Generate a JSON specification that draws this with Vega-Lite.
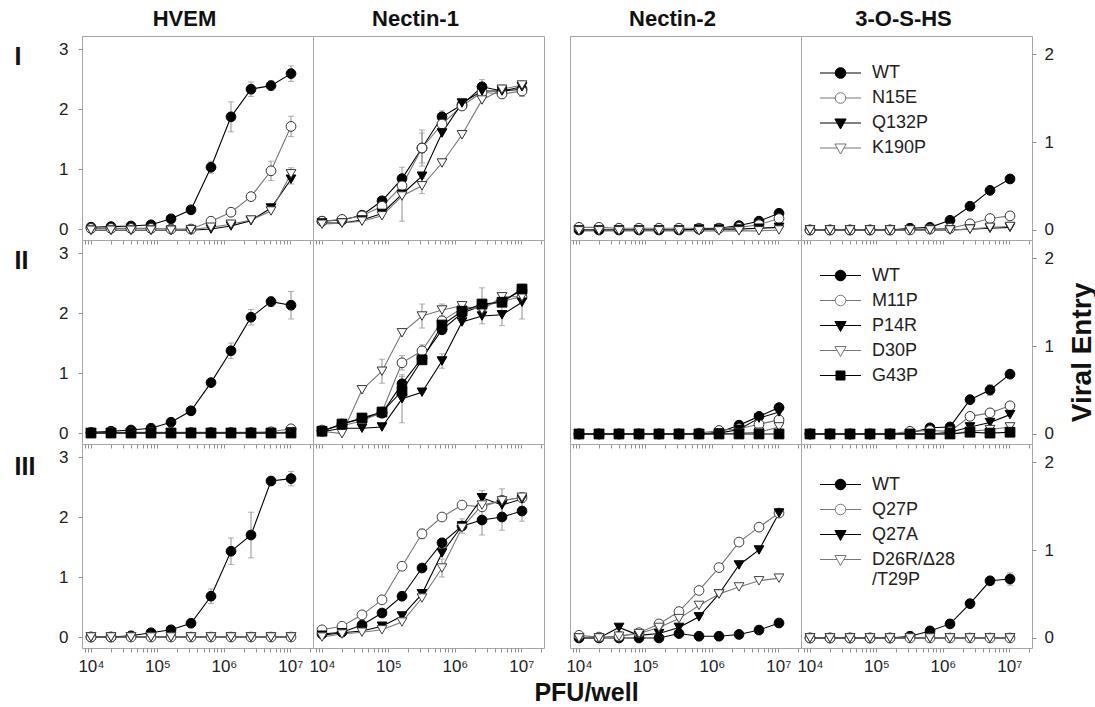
{
"$schema":"https://vega.github.io/schema/vega-lite/v6.json",
"padding":{"left":13,"top":7,"right":0,"bottom":0},
"config":{"font":"Liberation Sans","view":{"stroke":"#a6a6a6","strokeWidth":1},
"axis":{"grid":false,"domain":false,"tickColor":"#909090","tickSize":4,"labelFont":"Liberation Sans","labelFontSize":17,"labelColor":"#222","titleFont":"Liberation Sans","titleColor":"#111"},
"title":{"fontSize":22,"fontWeight":"bold","color":"#111","offset":5,"dx":-13},
"legend":{"labelFont":"Liberation Sans"}},
"datasets":{
"p11":[
{"s":"WT","x":1e4,"y":0.03},{"s":"WT","x":2e4,"y":0.04},{"s":"WT","x":4e4,"y":0.05},{"s":"WT","x":8e4,"y":0.07},{"s":"WT","x":1.6e5,"y":0.17},{"s":"WT","x":3.2e5,"y":0.32},{"s":"WT","x":6.4e5,"y":1.03,"e":0.1},{"s":"WT","x":1.28e6,"y":1.87,"e":0.25},{"s":"WT","x":2.56e6,"y":2.33,"e":0.12},{"s":"WT","x":5.12e6,"y":2.39,"e":0.08},{"s":"WT","x":1.024e7,"y":2.59,"e":0.13},
{"s":"N15E","x":1e4,"y":0.01},{"s":"N15E","x":2e4,"y":0.01},{"s":"N15E","x":4e4,"y":0.01},{"s":"N15E","x":8e4,"y":0.01},{"s":"N15E","x":1.6e5,"y":0.0},{"s":"N15E","x":3.2e5,"y":0.0},{"s":"N15E","x":6.4e5,"y":0.13},{"s":"N15E","x":1.28e6,"y":0.28},{"s":"N15E","x":2.56e6,"y":0.54},{"s":"N15E","x":5.12e6,"y":0.97,"e":0.16},{"s":"N15E","x":1.024e7,"y":1.71,"e":0.17},
{"s":"Q132P","x":1e4,"y":-0.02},{"s":"Q132P","x":2e4,"y":-0.02},{"s":"Q132P","x":4e4,"y":-0.02},{"s":"Q132P","x":8e4,"y":-0.02},{"s":"Q132P","x":1.6e5,"y":-0.02},{"s":"Q132P","x":3.2e5,"y":-0.02},{"s":"Q132P","x":6.4e5,"y":0.0},{"s":"Q132P","x":1.28e6,"y":0.05},{"s":"Q132P","x":2.56e6,"y":0.14},{"s":"Q132P","x":5.12e6,"y":0.35},{"s":"Q132P","x":1.024e7,"y":0.83,"e":0.08},
{"s":"K190P","x":1e4,"y":-0.02},{"s":"K190P","x":2e4,"y":-0.02},{"s":"K190P","x":4e4,"y":-0.02},{"s":"K190P","x":8e4,"y":-0.02},{"s":"K190P","x":1.6e5,"y":-0.02},{"s":"K190P","x":3.2e5,"y":-0.01},{"s":"K190P","x":6.4e5,"y":0.03},{"s":"K190P","x":1.28e6,"y":0.08},{"s":"K190P","x":2.56e6,"y":0.15},{"s":"K190P","x":5.12e6,"y":0.3},{"s":"K190P","x":1.024e7,"y":0.92,"e":0.1}
],
"p12":[
{"s":"WT","x":1e4,"y":0.13},{"s":"WT","x":2e4,"y":0.15},{"s":"WT","x":4e4,"y":0.23},{"s":"WT","x":8e4,"y":0.47},{"s":"WT","x":1.6e5,"y":0.84},{"s":"WT","x":3.2e5,"y":1.35,"e":0.3},{"s":"WT","x":6.4e5,"y":1.87,"e":0.1},{"s":"WT","x":1.28e6,"y":2.07},{"s":"WT","x":2.56e6,"y":2.37,"e":0.12},{"s":"WT","x":5.12e6,"y":2.3,"e":0.1},{"s":"WT","x":1.024e7,"y":2.33,"e":0.12},
{"s":"N15E","x":1e4,"y":0.13},{"s":"N15E","x":2e4,"y":0.16},{"s":"N15E","x":4e4,"y":0.22},{"s":"N15E","x":8e4,"y":0.38},{"s":"N15E","x":1.6e5,"y":0.72},{"s":"N15E","x":3.2e5,"y":1.35,"e":0.25},{"s":"N15E","x":6.4e5,"y":1.75},{"s":"N15E","x":1.28e6,"y":2.05},{"s":"N15E","x":2.56e6,"y":2.28},{"s":"N15E","x":5.12e6,"y":2.25},{"s":"N15E","x":1.024e7,"y":2.3},
{"s":"Q132P","x":1e4,"y":0.1},{"s":"Q132P","x":2e4,"y":0.1},{"s":"Q132P","x":4e4,"y":0.15},{"s":"Q132P","x":8e4,"y":0.26},{"s":"Q132P","x":1.6e5,"y":0.58,"e":0.45},{"s":"Q132P","x":3.2e5,"y":0.88},{"s":"Q132P","x":6.4e5,"y":1.6},{"s":"Q132P","x":1.28e6,"y":2.1},{"s":"Q132P","x":2.56e6,"y":2.3},{"s":"Q132P","x":5.12e6,"y":2.3},{"s":"Q132P","x":1.024e7,"y":2.37},
{"s":"K190P","x":1e4,"y":0.08},{"s":"K190P","x":2e4,"y":0.1},{"s":"K190P","x":4e4,"y":0.13},{"s":"K190P","x":8e4,"y":0.22},{"s":"K190P","x":1.6e5,"y":0.55},{"s":"K190P","x":3.2e5,"y":0.72,"e":0.13},{"s":"K190P","x":6.4e5,"y":1.1},{"s":"K190P","x":1.28e6,"y":1.57},{"s":"K190P","x":2.56e6,"y":2.15},{"s":"K190P","x":5.12e6,"y":2.33},{"s":"K190P","x":1.024e7,"y":2.4}
],
"p13":[
{"s":"WT","x":1e4,"y":0},{"s":"WT","x":2e4,"y":0},{"s":"WT","x":4e4,"y":0},{"s":"WT","x":8e4,"y":0},{"s":"WT","x":1.6e5,"y":0},{"s":"WT","x":3.2e5,"y":0},{"s":"WT","x":6.4e5,"y":0.01},{"s":"WT","x":1.28e6,"y":0.02},{"s":"WT","x":2.56e6,"y":0.05},{"s":"WT","x":5.12e6,"y":0.1},{"s":"WT","x":1.024e7,"y":0.19},
{"s":"N15E","x":1e4,"y":0.03},{"s":"N15E","x":2e4,"y":0.03},{"s":"N15E","x":4e4,"y":0.02},{"s":"N15E","x":8e4,"y":0.02},{"s":"N15E","x":1.6e5,"y":0.02},{"s":"N15E","x":3.2e5,"y":0.02},{"s":"N15E","x":6.4e5,"y":0.02},{"s":"N15E","x":1.28e6,"y":0.02},{"s":"N15E","x":2.56e6,"y":0.03},{"s":"N15E","x":5.12e6,"y":0.06},{"s":"N15E","x":1.024e7,"y":0.13},
{"s":"Q132P","x":1e4,"y":0},{"s":"Q132P","x":2e4,"y":0},{"s":"Q132P","x":4e4,"y":0},{"s":"Q132P","x":8e4,"y":0},{"s":"Q132P","x":1.6e5,"y":0},{"s":"Q132P","x":3.2e5,"y":0},{"s":"Q132P","x":6.4e5,"y":0.01},{"s":"Q132P","x":1.28e6,"y":0.01},{"s":"Q132P","x":2.56e6,"y":0.01},{"s":"Q132P","x":5.12e6,"y":0.02},{"s":"Q132P","x":1.024e7,"y":0.03},
{"s":"K190P","x":1e4,"y":-0.01},{"s":"K190P","x":2e4,"y":-0.01},{"s":"K190P","x":4e4,"y":-0.01},{"s":"K190P","x":8e4,"y":-0.01},{"s":"K190P","x":1.6e5,"y":-0.01},{"s":"K190P","x":3.2e5,"y":-0.01},{"s":"K190P","x":6.4e5,"y":-0.01},{"s":"K190P","x":1.28e6,"y":-0.01},{"s":"K190P","x":2.56e6,"y":-0.01},{"s":"K190P","x":5.12e6,"y":-0.01},{"s":"K190P","x":1.024e7,"y":0}
],
"p14":[
{"s":"WT","x":1e4,"y":0},{"s":"WT","x":2e4,"y":0},{"s":"WT","x":4e4,"y":0},{"s":"WT","x":8e4,"y":0},{"s":"WT","x":1.6e5,"y":0},{"s":"WT","x":3.2e5,"y":0.02},{"s":"WT","x":6.4e5,"y":0.03},{"s":"WT","x":1.28e6,"y":0.11},{"s":"WT","x":2.56e6,"y":0.27},{"s":"WT","x":5.12e6,"y":0.45},{"s":"WT","x":1.024e7,"y":0.58},
{"s":"N15E","x":1e4,"y":0},{"s":"N15E","x":2e4,"y":0},{"s":"N15E","x":4e4,"y":0},{"s":"N15E","x":8e4,"y":0},{"s":"N15E","x":1.6e5,"y":0},{"s":"N15E","x":3.2e5,"y":0},{"s":"N15E","x":6.4e5,"y":0.01},{"s":"N15E","x":1.28e6,"y":0.02},{"s":"N15E","x":2.56e6,"y":0.07},{"s":"N15E","x":5.12e6,"y":0.13},{"s":"N15E","x":1.024e7,"y":0.16},
{"s":"Q132P","x":1e4,"y":0},{"s":"Q132P","x":2e4,"y":0},{"s":"Q132P","x":4e4,"y":0},{"s":"Q132P","x":8e4,"y":0},{"s":"Q132P","x":1.6e5,"y":0},{"s":"Q132P","x":3.2e5,"y":0},{"s":"Q132P","x":6.4e5,"y":0},{"s":"Q132P","x":1.28e6,"y":0},{"s":"Q132P","x":2.56e6,"y":0.01},{"s":"Q132P","x":5.12e6,"y":0.02},{"s":"Q132P","x":1.024e7,"y":0.03},
{"s":"K190P","x":1e4,"y":0},{"s":"K190P","x":2e4,"y":0},{"s":"K190P","x":4e4,"y":0},{"s":"K190P","x":8e4,"y":0},{"s":"K190P","x":1.6e5,"y":0},{"s":"K190P","x":3.2e5,"y":0},{"s":"K190P","x":6.4e5,"y":0},{"s":"K190P","x":1.28e6,"y":0},{"s":"K190P","x":2.56e6,"y":0.01},{"s":"K190P","x":5.12e6,"y":0.03},{"s":"K190P","x":1.024e7,"y":0.04}
],
"p21":[
{"s":"WT","x":1e4,"y":0.01},{"s":"WT","x":2e4,"y":0.03},{"s":"WT","x":4e4,"y":0.05},{"s":"WT","x":8e4,"y":0.08},{"s":"WT","x":1.6e5,"y":0.18},{"s":"WT","x":3.2e5,"y":0.37},{"s":"WT","x":6.4e5,"y":0.84,"e":0.05},{"s":"WT","x":1.28e6,"y":1.37,"e":0.13},{"s":"WT","x":2.56e6,"y":1.93,"e":0.13},{"s":"WT","x":5.12e6,"y":2.19,"e":0.08},{"s":"WT","x":1.024e7,"y":2.13,"e":0.23},
{"s":"M11P","x":1e4,"y":0.01},{"s":"M11P","x":2e4,"y":0.01},{"s":"M11P","x":4e4,"y":0.01},{"s":"M11P","x":8e4,"y":0.01},{"s":"M11P","x":1.6e5,"y":0.01},{"s":"M11P","x":3.2e5,"y":0.01},{"s":"M11P","x":6.4e5,"y":0.01},{"s":"M11P","x":1.28e6,"y":0.01},{"s":"M11P","x":2.56e6,"y":0.01},{"s":"M11P","x":5.12e6,"y":0.02},{"s":"M11P","x":1.024e7,"y":0.07,"e":0.05},
{"s":"P14R","x":1e4,"y":0},{"s":"P14R","x":2e4,"y":0},{"s":"P14R","x":4e4,"y":0},{"s":"P14R","x":8e4,"y":0},{"s":"P14R","x":1.6e5,"y":0},{"s":"P14R","x":3.2e5,"y":0},{"s":"P14R","x":6.4e5,"y":0},{"s":"P14R","x":1.28e6,"y":0},{"s":"P14R","x":2.56e6,"y":0},{"s":"P14R","x":5.12e6,"y":0},{"s":"P14R","x":1.024e7,"y":0.01},
{"s":"D30P","x":1e4,"y":0},{"s":"D30P","x":2e4,"y":0},{"s":"D30P","x":4e4,"y":0},{"s":"D30P","x":8e4,"y":0},{"s":"D30P","x":1.6e5,"y":0},{"s":"D30P","x":3.2e5,"y":0},{"s":"D30P","x":6.4e5,"y":0},{"s":"D30P","x":1.28e6,"y":0},{"s":"D30P","x":2.56e6,"y":0},{"s":"D30P","x":5.12e6,"y":0},{"s":"D30P","x":1.024e7,"y":0.02},
{"s":"G43P","x":1e4,"y":0},{"s":"G43P","x":2e4,"y":0},{"s":"G43P","x":4e4,"y":0},{"s":"G43P","x":8e4,"y":0},{"s":"G43P","x":1.6e5,"y":0},{"s":"G43P","x":3.2e5,"y":0},{"s":"G43P","x":6.4e5,"y":0},{"s":"G43P","x":1.28e6,"y":0},{"s":"G43P","x":2.56e6,"y":0},{"s":"G43P","x":5.12e6,"y":0},{"s":"G43P","x":1.024e7,"y":0}
],
"p22":[
{"s":"WT","x":1e4,"y":0.03},{"s":"WT","x":2e4,"y":0.15},{"s":"WT","x":4e4,"y":0.24},{"s":"WT","x":8e4,"y":0.33},{"s":"WT","x":1.6e5,"y":0.82,"e":0.12},{"s":"WT","x":3.2e5,"y":1.25},{"s":"WT","x":6.4e5,"y":1.72},{"s":"WT","x":1.28e6,"y":2.0},{"s":"WT","x":2.56e6,"y":2.12,"e":0.3},{"s":"WT","x":5.12e6,"y":2.2},{"s":"WT","x":1.024e7,"y":2.38,"e":0.1},
{"s":"M11P","x":1e4,"y":0.05},{"s":"M11P","x":2e4,"y":0.12},{"s":"M11P","x":4e4,"y":0.2},{"s":"M11P","x":8e4,"y":0.35},{"s":"M11P","x":1.6e5,"y":1.17,"e":0.12},{"s":"M11P","x":3.2e5,"y":1.37,"e":0.1},{"s":"M11P","x":6.4e5,"y":1.87},{"s":"M11P","x":1.28e6,"y":2.08},{"s":"M11P","x":2.56e6,"y":2.1},{"s":"M11P","x":5.12e6,"y":2.2},{"s":"M11P","x":1.024e7,"y":2.27},
{"s":"P14R","x":1e4,"y":0.02},{"s":"P14R","x":2e4,"y":0.08},{"s":"P14R","x":4e4,"y":0.08},{"s":"P14R","x":8e4,"y":0.1},{"s":"P14R","x":1.6e5,"y":0.57,"e":0.4},{"s":"P14R","x":3.2e5,"y":0.68},{"s":"P14R","x":6.4e5,"y":1.2,"e":0.12},{"s":"P14R","x":1.28e6,"y":1.85},{"s":"P14R","x":2.56e6,"y":1.95},{"s":"P14R","x":5.12e6,"y":1.97,"e":0.18},{"s":"P14R","x":1.024e7,"y":2.18,"e":0.28},
{"s":"D30P","x":1e4,"y":0.03},{"s":"D30P","x":2e4,"y":-0.01},{"s":"D30P","x":4e4,"y":0.72},{"s":"D30P","x":8e4,"y":1.03,"e":0.2},{"s":"D30P","x":1.6e5,"y":1.67},{"s":"D30P","x":3.2e5,"y":1.95,"e":0.2},{"s":"D30P","x":6.4e5,"y":2.05,"e":0.1},{"s":"D30P","x":1.28e6,"y":2.12},{"s":"D30P","x":2.56e6,"y":2.05},{"s":"D30P","x":5.12e6,"y":2.27},{"s":"D30P","x":1.024e7,"y":2.27},
{"s":"G43P","x":1e4,"y":0.03},{"s":"G43P","x":2e4,"y":0.15},{"s":"G43P","x":4e4,"y":0.25},{"s":"G43P","x":8e4,"y":0.35},{"s":"G43P","x":1.6e5,"y":0.7},{"s":"G43P","x":3.2e5,"y":1.22},{"s":"G43P","x":6.4e5,"y":1.8,"e":0.1},{"s":"G43P","x":1.28e6,"y":2.03},{"s":"G43P","x":2.56e6,"y":2.15},{"s":"G43P","x":5.12e6,"y":2.18},{"s":"G43P","x":1.024e7,"y":2.4}
],
"p23":[
{"s":"WT","x":1e4,"y":0},{"s":"WT","x":2e4,"y":0},{"s":"WT","x":4e4,"y":0},{"s":"WT","x":8e4,"y":0},{"s":"WT","x":1.6e5,"y":0},{"s":"WT","x":3.2e5,"y":0},{"s":"WT","x":6.4e5,"y":0},{"s":"WT","x":1.28e6,"y":0.02},{"s":"WT","x":2.56e6,"y":0.1},{"s":"WT","x":5.12e6,"y":0.2},{"s":"WT","x":1.024e7,"y":0.3},
{"s":"M11P","x":1e4,"y":0},{"s":"M11P","x":2e4,"y":0},{"s":"M11P","x":4e4,"y":0},{"s":"M11P","x":8e4,"y":0},{"s":"M11P","x":1.6e5,"y":0},{"s":"M11P","x":3.2e5,"y":0},{"s":"M11P","x":6.4e5,"y":0.01},{"s":"M11P","x":1.28e6,"y":0.04},{"s":"M11P","x":2.56e6,"y":0.06},{"s":"M11P","x":5.12e6,"y":0.11},{"s":"M11P","x":1.024e7,"y":0.16},
{"s":"P14R","x":1e4,"y":0},{"s":"P14R","x":2e4,"y":0},{"s":"P14R","x":4e4,"y":0},{"s":"P14R","x":8e4,"y":0},{"s":"P14R","x":1.6e5,"y":0},{"s":"P14R","x":3.2e5,"y":0},{"s":"P14R","x":6.4e5,"y":0},{"s":"P14R","x":1.28e6,"y":0.01},{"s":"P14R","x":2.56e6,"y":0.05},{"s":"P14R","x":5.12e6,"y":0.18},{"s":"P14R","x":1.024e7,"y":0.25},
{"s":"D30P","x":1e4,"y":0},{"s":"D30P","x":2e4,"y":0},{"s":"D30P","x":4e4,"y":0},{"s":"D30P","x":8e4,"y":0},{"s":"D30P","x":1.6e5,"y":0},{"s":"D30P","x":3.2e5,"y":0},{"s":"D30P","x":6.4e5,"y":0},{"s":"D30P","x":1.28e6,"y":0},{"s":"D30P","x":2.56e6,"y":0.01},{"s":"D30P","x":5.12e6,"y":0.02},{"s":"D30P","x":1.024e7,"y":0.08},
{"s":"G43P","x":1e4,"y":0},{"s":"G43P","x":2e4,"y":0},{"s":"G43P","x":4e4,"y":0},{"s":"G43P","x":8e4,"y":0},{"s":"G43P","x":1.6e5,"y":0},{"s":"G43P","x":3.2e5,"y":0},{"s":"G43P","x":6.4e5,"y":0},{"s":"G43P","x":1.28e6,"y":0},{"s":"G43P","x":2.56e6,"y":0},{"s":"G43P","x":5.12e6,"y":0},{"s":"G43P","x":1.024e7,"y":0}
],
"p24":[
{"s":"WT","x":1e4,"y":0},{"s":"WT","x":2e4,"y":0},{"s":"WT","x":4e4,"y":0},{"s":"WT","x":8e4,"y":0},{"s":"WT","x":1.6e5,"y":0},{"s":"WT","x":3.2e5,"y":0.01},{"s":"WT","x":6.4e5,"y":0.07},{"s":"WT","x":1.28e6,"y":0.08},{"s":"WT","x":2.56e6,"y":0.39},{"s":"WT","x":5.12e6,"y":0.5,"e":0.06},{"s":"WT","x":1.024e7,"y":0.68},
{"s":"M11P","x":1e4,"y":0},{"s":"M11P","x":2e4,"y":0},{"s":"M11P","x":4e4,"y":0},{"s":"M11P","x":8e4,"y":0},{"s":"M11P","x":1.6e5,"y":0},{"s":"M11P","x":3.2e5,"y":0.03},{"s":"M11P","x":6.4e5,"y":0.04},{"s":"M11P","x":1.28e6,"y":0.03},{"s":"M11P","x":2.56e6,"y":0.2},{"s":"M11P","x":5.12e6,"y":0.24},{"s":"M11P","x":1.024e7,"y":0.32},
{"s":"P14R","x":1e4,"y":0},{"s":"P14R","x":2e4,"y":0},{"s":"P14R","x":4e4,"y":0},{"s":"P14R","x":8e4,"y":0},{"s":"P14R","x":1.6e5,"y":0},{"s":"P14R","x":3.2e5,"y":0},{"s":"P14R","x":6.4e5,"y":0},{"s":"P14R","x":1.28e6,"y":0.02},{"s":"P14R","x":2.56e6,"y":0.08},{"s":"P14R","x":5.12e6,"y":0.13},{"s":"P14R","x":1.024e7,"y":0.22},
{"s":"D30P","x":1e4,"y":0},{"s":"D30P","x":2e4,"y":0},{"s":"D30P","x":4e4,"y":0},{"s":"D30P","x":8e4,"y":0},{"s":"D30P","x":1.6e5,"y":0},{"s":"D30P","x":3.2e5,"y":0},{"s":"D30P","x":6.4e5,"y":0},{"s":"D30P","x":1.28e6,"y":0},{"s":"D30P","x":2.56e6,"y":0.03},{"s":"D30P","x":5.12e6,"y":0.05},{"s":"D30P","x":1.024e7,"y":0.08},
{"s":"G43P","x":1e4,"y":0},{"s":"G43P","x":2e4,"y":0},{"s":"G43P","x":4e4,"y":0},{"s":"G43P","x":8e4,"y":0},{"s":"G43P","x":1.6e5,"y":0},{"s":"G43P","x":3.2e5,"y":0},{"s":"G43P","x":6.4e5,"y":0},{"s":"G43P","x":1.28e6,"y":0},{"s":"G43P","x":2.56e6,"y":0.02},{"s":"G43P","x":5.12e6,"y":0.01},{"s":"G43P","x":1.024e7,"y":0.02}
],
"p31":[
{"s":"WT","x":1e4,"y":0},{"s":"WT","x":2e4,"y":0},{"s":"WT","x":4e4,"y":0.02},{"s":"WT","x":8e4,"y":0.07},{"s":"WT","x":1.6e5,"y":0.12},{"s":"WT","x":3.2e5,"y":0.23},{"s":"WT","x":6.4e5,"y":0.68,"e":0.12},{"s":"WT","x":1.28e6,"y":1.43,"e":0.22},{"s":"WT","x":2.56e6,"y":1.7,"e":0.38},{"s":"WT","x":5.12e6,"y":2.6,"e":0.06},{"s":"WT","x":1.024e7,"y":2.64,"e":0.12},
{"s":"Q27P","x":1e4,"y":0},{"s":"Q27P","x":2e4,"y":0},{"s":"Q27P","x":4e4,"y":0},{"s":"Q27P","x":8e4,"y":0},{"s":"Q27P","x":1.6e5,"y":0},{"s":"Q27P","x":3.2e5,"y":0},{"s":"Q27P","x":6.4e5,"y":0},{"s":"Q27P","x":1.28e6,"y":0},{"s":"Q27P","x":2.56e6,"y":0},{"s":"Q27P","x":5.12e6,"y":0},{"s":"Q27P","x":1.024e7,"y":0},
{"s":"Q27A","x":1e4,"y":0},{"s":"Q27A","x":2e4,"y":0},{"s":"Q27A","x":4e4,"y":0},{"s":"Q27A","x":8e4,"y":0},{"s":"Q27A","x":1.6e5,"y":0},{"s":"Q27A","x":3.2e5,"y":0},{"s":"Q27A","x":6.4e5,"y":0},{"s":"Q27A","x":1.28e6,"y":0},{"s":"Q27A","x":2.56e6,"y":0},{"s":"Q27A","x":5.12e6,"y":0},{"s":"Q27A","x":1.024e7,"y":0},
{"s":"D26R/Δ28/T29P","x":1e4,"y":0},{"s":"D26R/Δ28/T29P","x":2e4,"y":0},{"s":"D26R/Δ28/T29P","x":4e4,"y":0},{"s":"D26R/Δ28/T29P","x":8e4,"y":0},{"s":"D26R/Δ28/T29P","x":1.6e5,"y":0},{"s":"D26R/Δ28/T29P","x":3.2e5,"y":0},{"s":"D26R/Δ28/T29P","x":6.4e5,"y":0},{"s":"D26R/Δ28/T29P","x":1.28e6,"y":0},{"s":"D26R/Δ28/T29P","x":2.56e6,"y":0},{"s":"D26R/Δ28/T29P","x":5.12e6,"y":0},{"s":"D26R/Δ28/T29P","x":1.024e7,"y":0}
],
"p32":[
{"s":"WT","x":1e4,"y":0.05},{"s":"WT","x":2e4,"y":0.08},{"s":"WT","x":4e4,"y":0.2},{"s":"WT","x":8e4,"y":0.4},{"s":"WT","x":1.6e5,"y":0.68},{"s":"WT","x":3.2e5,"y":1.15},{"s":"WT","x":6.4e5,"y":1.57},{"s":"WT","x":1.28e6,"y":1.85,"e":0.12},{"s":"WT","x":2.56e6,"y":1.95,"e":0.25},{"s":"WT","x":5.12e6,"y":2.0,"e":0.22},{"s":"WT","x":1.024e7,"y":2.1,"e":0.17},
{"s":"Q27P","x":1e4,"y":0.12},{"s":"Q27P","x":2e4,"y":0.18},{"s":"Q27P","x":4e4,"y":0.37},{"s":"Q27P","x":8e4,"y":0.62},{"s":"Q27P","x":1.6e5,"y":1.18},{"s":"Q27P","x":3.2e5,"y":1.72,"e":0.08},{"s":"Q27P","x":6.4e5,"y":2.0},{"s":"Q27P","x":1.28e6,"y":2.2},{"s":"Q27P","x":2.56e6,"y":2.17},{"s":"Q27P","x":5.12e6,"y":2.28},{"s":"Q27P","x":1.024e7,"y":2.32},
{"s":"Q27A","x":1e4,"y":0.03},{"s":"Q27A","x":2e4,"y":0.07},{"s":"Q27A","x":4e4,"y":0.1},{"s":"Q27A","x":8e4,"y":0.18},{"s":"Q27A","x":1.6e5,"y":0.35},{"s":"Q27A","x":3.2e5,"y":0.72},{"s":"Q27A","x":6.4e5,"y":1.4},{"s":"Q27A","x":1.28e6,"y":1.85},{"s":"Q27A","x":2.56e6,"y":2.32,"e":0.12},{"s":"Q27A","x":5.12e6,"y":2.2},{"s":"Q27A","x":1.024e7,"y":2.3},
{"s":"D26R/Δ28/T29P","x":1e4,"y":0},{"s":"D26R/Δ28/T29P","x":2e4,"y":0.05},{"s":"D26R/Δ28/T29P","x":4e4,"y":0.08},{"s":"D26R/Δ28/T29P","x":8e4,"y":0.12},{"s":"D26R/Δ28/T29P","x":1.6e5,"y":0.25},{"s":"D26R/Δ28/T29P","x":3.2e5,"y":0.65},{"s":"D26R/Δ28/T29P","x":6.4e5,"y":1.15,"e":0.15},{"s":"D26R/Δ28/T29P","x":1.28e6,"y":1.82},{"s":"D26R/Δ28/T29P","x":2.56e6,"y":2.2},{"s":"D26R/Δ28/T29P","x":5.12e6,"y":2.27,"e":0.2},{"s":"D26R/Δ28/T29P","x":1.024e7,"y":2.33,"e":0.08}
],
"p33":[
{"s":"WT","x":1e4,"y":0},{"s":"WT","x":2e4,"y":0},{"s":"WT","x":4e4,"y":0},{"s":"WT","x":8e4,"y":0},{"s":"WT","x":1.6e5,"y":0},{"s":"WT","x":3.2e5,"y":0.05},{"s":"WT","x":6.4e5,"y":0.02},{"s":"WT","x":1.28e6,"y":0.02},{"s":"WT","x":2.56e6,"y":0.04},{"s":"WT","x":5.12e6,"y":0.09},{"s":"WT","x":1.024e7,"y":0.17},
{"s":"Q27P","x":1e4,"y":0.03},{"s":"Q27P","x":2e4,"y":0.01},{"s":"Q27P","x":4e4,"y":0.02},{"s":"Q27P","x":8e4,"y":0.06},{"s":"Q27P","x":1.6e5,"y":0.16},{"s":"Q27P","x":3.2e5,"y":0.3},{"s":"Q27P","x":6.4e5,"y":0.54},{"s":"Q27P","x":1.28e6,"y":0.8},{"s":"Q27P","x":2.56e6,"y":1.09},{"s":"Q27P","x":5.12e6,"y":1.26},{"s":"Q27P","x":1.024e7,"y":1.42},
{"s":"Q27A","x":1e4,"y":0},{"s":"Q27A","x":2e4,"y":0},{"s":"Q27A","x":4e4,"y":0.12},{"s":"Q27A","x":8e4,"y":0.03},{"s":"Q27A","x":1.6e5,"y":0.05},{"s":"Q27A","x":3.2e5,"y":0.12},{"s":"Q27A","x":6.4e5,"y":0.24},{"s":"Q27A","x":1.28e6,"y":0.5},{"s":"Q27A","x":2.56e6,"y":0.83},{"s":"Q27A","x":5.12e6,"y":1.0},{"s":"Q27A","x":1.024e7,"y":1.42},
{"s":"D26R/Δ28/T29P","x":1e4,"y":0},{"s":"D26R/Δ28/T29P","x":2e4,"y":0},{"s":"D26R/Δ28/T29P","x":4e4,"y":0.02},{"s":"D26R/Δ28/T29P","x":8e4,"y":0.05},{"s":"D26R/Δ28/T29P","x":1.6e5,"y":0.12},{"s":"D26R/Δ28/T29P","x":3.2e5,"y":0.22},{"s":"D26R/Δ28/T29P","x":6.4e5,"y":0.37},{"s":"D26R/Δ28/T29P","x":1.28e6,"y":0.5},{"s":"D26R/Δ28/T29P","x":2.56e6,"y":0.58},{"s":"D26R/Δ28/T29P","x":5.12e6,"y":0.65},{"s":"D26R/Δ28/T29P","x":1.024e7,"y":0.68}
],
"p34":[
{"s":"WT","x":1e4,"y":0},{"s":"WT","x":2e4,"y":0},{"s":"WT","x":4e4,"y":0},{"s":"WT","x":8e4,"y":0},{"s":"WT","x":1.6e5,"y":0},{"s":"WT","x":3.2e5,"y":0.02},{"s":"WT","x":6.4e5,"y":0.08},{"s":"WT","x":1.28e6,"y":0.16},{"s":"WT","x":2.56e6,"y":0.39},{"s":"WT","x":5.12e6,"y":0.65},{"s":"WT","x":1.024e7,"y":0.67,"e":0.07},
{"s":"Q27P","x":1e4,"y":0},{"s":"Q27P","x":2e4,"y":0},{"s":"Q27P","x":4e4,"y":0},{"s":"Q27P","x":8e4,"y":0},{"s":"Q27P","x":1.6e5,"y":0},{"s":"Q27P","x":3.2e5,"y":0},{"s":"Q27P","x":6.4e5,"y":0},{"s":"Q27P","x":1.28e6,"y":0},{"s":"Q27P","x":2.56e6,"y":0},{"s":"Q27P","x":5.12e6,"y":0},{"s":"Q27P","x":1.024e7,"y":0},
{"s":"Q27A","x":1e4,"y":0},{"s":"Q27A","x":2e4,"y":0},{"s":"Q27A","x":4e4,"y":0},{"s":"Q27A","x":8e4,"y":0},{"s":"Q27A","x":1.6e5,"y":0},{"s":"Q27A","x":3.2e5,"y":0},{"s":"Q27A","x":6.4e5,"y":0},{"s":"Q27A","x":1.28e6,"y":0},{"s":"Q27A","x":2.56e6,"y":0},{"s":"Q27A","x":5.12e6,"y":0},{"s":"Q27A","x":1.024e7,"y":0},
{"s":"D26R/Δ28/T29P","x":1e4,"y":0},{"s":"D26R/Δ28/T29P","x":2e4,"y":0},{"s":"D26R/Δ28/T29P","x":4e4,"y":0},{"s":"D26R/Δ28/T29P","x":8e4,"y":0},{"s":"D26R/Δ28/T29P","x":1.6e5,"y":0},{"s":"D26R/Δ28/T29P","x":3.2e5,"y":0},{"s":"D26R/Δ28/T29P","x":6.4e5,"y":0},{"s":"D26R/Δ28/T29P","x":1.28e6,"y":0},{"s":"D26R/Δ28/T29P","x":2.56e6,"y":0},{"s":"D26R/Δ28/T29P","x":5.12e6,"y":0},{"s":"D26R/Δ28/T29P","x":1.024e7,"y":0}
]
},
"columns":5,
"spacing":0,
"bounds":"flush",
"resolve":{"scale":{"color":"independent","fill":"independent","stroke":"independent","shape":"independent"},"legend":{"color":"independent","fill":"independent","stroke":"independent","shape":"independent"}},
"concat":[
{"width":231,"height":204,"title":"HVEM","data":{"name":"p11"},
"encoding":{"x":{"field":"x","type":"quantitative","scale":{"type":"log","domain":[7320,21940000],"nice":false},"axis":{"values":[8000,9000,10000,20000,30000,40000,50000,60000,70000,80000,90000,100000,200000,300000,400000,500000,600000,700000,800000,900000,1000000,2000000,3000000,4000000,5000000,6000000,7000000,8000000,9000000,10000000,20000000],"labels":false,"title":null}},
"y":{"field":"y","type":"quantitative","scale":{"domain":[-0.183,3.217],"nice":false,"zero":false},"axis":{"values":[0,1,2,3],"labelPadding":10,"title":"I","titleAngle":0,"titleX":-68,"titleY":28,"titleAlign":"left","titleBaseline":"alphabetic","titleFontSize":25,"titleFontWeight":"bold"}}},
"layer":[
{"transform":[{"filter":"datum.e > 0"}],"mark":{"type":"errorbar","ticks":{"size":6},"color":"#909090","thickness":1},"encoding":{"yError":{"field":"e"}}},
{"mark":{"type":"line","strokeWidth":1.1},"encoding":{"color":{"field":"s","type":"nominal","scale":{"domain":["WT","N15E","Q132P","K190P"],"range":["#000000","#777777","#000000","#777777"]},"legend":null}}},
{"mark":{"type":"point","size":95,"opacity":1,"strokeWidth":1},"encoding":{"shape":{"field":"s","type":"nominal","scale":{"domain":["WT","N15E","Q132P","K190P"],"range":["circle","circle","triangle-down","triangle-down"]},"legend":null},"fill":{"field":"s","type":"nominal","scale":{"domain":["WT","N15E","Q132P","K190P"],"range":["#000000","#ffffff","#000000","#ffffff"]},"legend":null},"stroke":{"field":"s","type":"nominal","scale":{"domain":["WT","N15E","Q132P","K190P"],"range":["#000000","#333333","#000000","#333333"]},"legend":null}}}
]},
{"width":231,"height":204,"title":"Nectin-1","data":{"name":"p12"},
"encoding":{"x":{"field":"x","type":"quantitative","scale":{"type":"log","domain":[7320,21940000],"nice":false},"axis":{"values":[8000,9000,10000,20000,30000,40000,50000,60000,70000,80000,90000,100000,200000,300000,400000,500000,600000,700000,800000,900000,1000000,2000000,3000000,4000000,5000000,6000000,7000000,8000000,9000000,10000000,20000000],"labels":false,"title":null}},
"y":{"field":"y","type":"quantitative","scale":{"domain":[-0.183,3.217],"nice":false,"zero":false},"axis":null}},
"layer":[
{"transform":[{"filter":"datum.e > 0"}],"mark":{"type":"errorbar","ticks":{"size":6},"color":"#909090","thickness":1},"encoding":{"yError":{"field":"e"}}},
{"mark":{"type":"line","strokeWidth":1.1},"encoding":{"color":{"field":"s","type":"nominal","scale":{"domain":["WT","N15E","Q132P","K190P"],"range":["#000000","#777777","#000000","#777777"]},"legend":null}}},
{"mark":{"type":"point","size":95,"opacity":1,"strokeWidth":1},"encoding":{"shape":{"field":"s","type":"nominal","scale":{"domain":["WT","N15E","Q132P","K190P"],"range":["circle","circle","triangle-down","triangle-down"]},"legend":null},"fill":{"field":"s","type":"nominal","scale":{"domain":["WT","N15E","Q132P","K190P"],"range":["#000000","#ffffff","#000000","#ffffff"]},"legend":null},"stroke":{"field":"s","type":"nominal","scale":{"domain":["WT","N15E","Q132P","K190P"],"range":["#000000","#333333","#000000","#333333"]},"legend":null}}}
]},
{"width":26,"height":204,"data":{"values":[]},"mark":{"type":"point"},"view":{"stroke":null}},
{"width":231,"height":204,"title":"Nectin-2","data":{"name":"p13"},
"encoding":{"x":{"field":"x","type":"quantitative","scale":{"type":"log","domain":[7320,21940000],"nice":false},"axis":{"values":[8000,9000,10000,20000,30000,40000,50000,60000,70000,80000,90000,100000,200000,300000,400000,500000,600000,700000,800000,900000,1000000,2000000,3000000,4000000,5000000,6000000,7000000,8000000,9000000,10000000,20000000],"labels":false,"title":null}},
"y":{"field":"y","type":"quantitative","scale":{"domain":[-0.114,2.205],"nice":false,"zero":false},"axis":null}},
"layer":[
{"transform":[{"filter":"datum.e > 0"}],"mark":{"type":"errorbar","ticks":{"size":6},"color":"#909090","thickness":1},"encoding":{"yError":{"field":"e"}}},
{"mark":{"type":"line","strokeWidth":1.1},"encoding":{"color":{"field":"s","type":"nominal","scale":{"domain":["WT","N15E","Q132P","K190P"],"range":["#000000","#777777","#000000","#777777"]},"legend":null}}},
{"mark":{"type":"point","size":95,"opacity":1,"strokeWidth":1},"encoding":{"shape":{"field":"s","type":"nominal","scale":{"domain":["WT","N15E","Q132P","K190P"],"range":["circle","circle","triangle-down","triangle-down"]},"legend":null},"fill":{"field":"s","type":"nominal","scale":{"domain":["WT","N15E","Q132P","K190P"],"range":["#000000","#ffffff","#000000","#ffffff"]},"legend":null},"stroke":{"field":"s","type":"nominal","scale":{"domain":["WT","N15E","Q132P","K190P"],"range":["#000000","#333333","#000000","#333333"]},"legend":null}}}
]},
{"width":231,"height":204,"title":"3-O-S-HS","data":{"name":"p14"},
"encoding":{"x":{"field":"x","type":"quantitative","scale":{"type":"log","domain":[7320,21940000],"nice":false},"axis":{"values":[8000,9000,10000,20000,30000,40000,50000,60000,70000,80000,90000,100000,200000,300000,400000,500000,600000,700000,800000,900000,1000000,2000000,3000000,4000000,5000000,6000000,7000000,8000000,9000000,10000000,20000000],"labels":false,"title":null}},
"y":{"field":"y","type":"quantitative","scale":{"domain":[-0.114,2.205],"nice":false,"zero":false},"axis":{"orient":"right","values":[0,1,2],"labelPadding":8,"title":null}}},
"layer":[
{"transform":[{"filter":"datum.e > 0"}],"mark":{"type":"errorbar","ticks":{"size":6},"color":"#909090","thickness":1},"encoding":{"yError":{"field":"e"}}},
{"mark":{"type":"line","strokeWidth":1.1},"encoding":{"color":{"field":"s","type":"nominal","scale":{"domain":["WT","N15E","Q132P","K190P"],"range":["#000000","#777777","#000000","#777777"]},"legend":null}}},
{"mark":{"type":"point","size":95,"opacity":1,"strokeWidth":1},"encoding":{"shape":{"field":"s","type":"nominal","scale":{"domain":["WT","N15E","Q132P","K190P"],"range":["circle","circle","triangle-down","triangle-down"]},"legend":null},"fill":{"field":"s","type":"nominal","scale":{"domain":["WT","N15E","Q132P","K190P"],"range":["#000000","#ffffff","#000000","#ffffff"]},"legend":null},"stroke":{"field":"s","type":"nominal","scale":{"domain":["WT","N15E","Q132P","K190P"],"range":["#000000","#333333","#000000","#333333"]},"legend":null}}},
{"transform":[{"filter":"false"}],"mark":{"type":"point","size":900,"opacity":1,"strokeWidth":1},"encoding":{
"shape":{"field":"s","type":"nominal","scale":{"domain":["WT","N15E","Q132P","K190P"],"range":["M-1.367,0H-0.353M0.353,0H1.367M-0.353,0A0.353,0.353,0,1,0,0.353,0A0.353,0.353,0,1,0,-0.353,0Z","M-1.367,0H-0.353M0.353,0H1.367M-0.353,0A0.353,0.353,0,1,0,0.353,0A0.353,0.353,0,1,0,-0.353,0Z","M-1.367,0H-0.224M0.224,0H1.367M-0.373,-0.267L0.373,-0.267L0,0.4Z","M-1.367,0H-0.224M0.224,0H1.367M-0.373,-0.267L0.373,-0.267L0,0.4Z"]},"legend":{"title":null,"orient":"none","legendX":24,"legendY":21.5,"symbolSize":900,"symbolStrokeWidth":1,"symbolOpacity":1,"labelFontSize":18,"labelColor":"#222","labelOffset":16,"rowPadding":0,"padding":0,"labelLimit":200}},
"fill":{"field":"s","type":"nominal","scale":{"domain":["WT","N15E","Q132P","K190P"],"range":["#000000","#ffffff","#000000","#ffffff"]},"legend":{"title":null,"orient":"none","legendX":24,"legendY":21.5,"symbolSize":900,"symbolStrokeWidth":1,"symbolOpacity":1,"labelFontSize":18,"labelColor":"#222","labelOffset":16,"rowPadding":0,"padding":0,"labelLimit":200}},
"stroke":{"field":"s","type":"nominal","scale":{"domain":["WT","N15E","Q132P","K190P"],"range":["#000000","#777777","#000000","#777777"]},"legend":{"title":null,"orient":"none","legendX":24,"legendY":21.5,"symbolSize":900,"symbolStrokeWidth":1,"symbolOpacity":1,"labelFontSize":18,"labelColor":"#222","labelOffset":16,"rowPadding":0,"padding":0,"labelLimit":200}}}}
],
"resolve":{"scale":{"shape":"independent","fill":"independent","stroke":"independent"}}},

{"width":231,"height":204,"data":{"name":"p21"},
"encoding":{"x":{"field":"x","type":"quantitative","scale":{"type":"log","domain":[7320,21940000],"nice":false},"axis":{"values":[8000,9000,10000,20000,30000,40000,50000,60000,70000,80000,90000,100000,200000,300000,400000,500000,600000,700000,800000,900000,1000000,2000000,3000000,4000000,5000000,6000000,7000000,8000000,9000000,10000000,20000000],"labels":false,"title":null}},
"y":{"field":"y","type":"quantitative","scale":{"domain":[-0.183,3.217],"nice":false,"zero":false},"axis":{"values":[0,1,2,3],"labelPadding":10,"title":"II","titleAngle":0,"titleX":-68,"titleY":28,"titleAlign":"left","titleBaseline":"alphabetic","titleFontSize":25,"titleFontWeight":"bold"}}},
"layer":[
{"transform":[{"filter":"datum.e > 0"}],"mark":{"type":"errorbar","ticks":{"size":6},"color":"#909090","thickness":1},"encoding":{"yError":{"field":"e"}}},
{"mark":{"type":"line","strokeWidth":1.1},"encoding":{"color":{"field":"s","type":"nominal","scale":{"domain":["WT","M11P","P14R","D30P","G43P"],"range":["#000000","#777777","#000000","#777777","#000000"]},"legend":null}}},
{"mark":{"type":"point","size":95,"opacity":1,"strokeWidth":1},"encoding":{"shape":{"field":"s","type":"nominal","scale":{"domain":["WT","M11P","P14R","D30P","G43P"],"range":["circle","circle","triangle-down","triangle-down","square"]},"legend":null},"fill":{"field":"s","type":"nominal","scale":{"domain":["WT","M11P","P14R","D30P","G43P"],"range":["#000000","#ffffff","#000000","#ffffff","#000000"]},"legend":null},"stroke":{"field":"s","type":"nominal","scale":{"domain":["WT","M11P","P14R","D30P","G43P"],"range":["#000000","#333333","#000000","#333333","#000000"]},"legend":null}}}
]},
{"width":231,"height":204,"data":{"name":"p22"},
"encoding":{"x":{"field":"x","type":"quantitative","scale":{"type":"log","domain":[7320,21940000],"nice":false},"axis":{"values":[8000,9000,10000,20000,30000,40000,50000,60000,70000,80000,90000,100000,200000,300000,400000,500000,600000,700000,800000,900000,1000000,2000000,3000000,4000000,5000000,6000000,7000000,8000000,9000000,10000000,20000000],"labels":false,"title":null}},
"y":{"field":"y","type":"quantitative","scale":{"domain":[-0.183,3.217],"nice":false,"zero":false},"axis":null}},
"layer":[
{"transform":[{"filter":"datum.e > 0"}],"mark":{"type":"errorbar","ticks":{"size":6},"color":"#909090","thickness":1},"encoding":{"yError":{"field":"e"}}},
{"mark":{"type":"line","strokeWidth":1.1},"encoding":{"color":{"field":"s","type":"nominal","scale":{"domain":["WT","M11P","P14R","D30P","G43P"],"range":["#000000","#777777","#000000","#777777","#000000"]},"legend":null}}},
{"mark":{"type":"point","size":95,"opacity":1,"strokeWidth":1},"encoding":{"shape":{"field":"s","type":"nominal","scale":{"domain":["WT","M11P","P14R","D30P","G43P"],"range":["circle","circle","triangle-down","triangle-down","square"]},"legend":null},"fill":{"field":"s","type":"nominal","scale":{"domain":["WT","M11P","P14R","D30P","G43P"],"range":["#000000","#ffffff","#000000","#ffffff","#000000"]},"legend":null},"stroke":{"field":"s","type":"nominal","scale":{"domain":["WT","M11P","P14R","D30P","G43P"],"range":["#000000","#333333","#000000","#333333","#000000"]},"legend":null}}}
]},
{"width":26,"height":204,"data":{"values":[]},"mark":{"type":"point"},"view":{"stroke":null}},
{"width":231,"height":204,"data":{"name":"p23"},
"encoding":{"x":{"field":"x","type":"quantitative","scale":{"type":"log","domain":[7320,21940000],"nice":false},"axis":{"values":[8000,9000,10000,20000,30000,40000,50000,60000,70000,80000,90000,100000,200000,300000,400000,500000,600000,700000,800000,900000,1000000,2000000,3000000,4000000,5000000,6000000,7000000,8000000,9000000,10000000,20000000],"labels":false,"title":null}},
"y":{"field":"y","type":"quantitative","scale":{"domain":[-0.114,2.205],"nice":false,"zero":false},"axis":null}},
"layer":[
{"transform":[{"filter":"datum.e > 0"}],"mark":{"type":"errorbar","ticks":{"size":6},"color":"#909090","thickness":1},"encoding":{"yError":{"field":"e"}}},
{"mark":{"type":"line","strokeWidth":1.1},"encoding":{"color":{"field":"s","type":"nominal","scale":{"domain":["WT","M11P","P14R","D30P","G43P"],"range":["#000000","#777777","#000000","#777777","#000000"]},"legend":null}}},
{"mark":{"type":"point","size":95,"opacity":1,"strokeWidth":1},"encoding":{"shape":{"field":"s","type":"nominal","scale":{"domain":["WT","M11P","P14R","D30P","G43P"],"range":["circle","circle","triangle-down","triangle-down","square"]},"legend":null},"fill":{"field":"s","type":"nominal","scale":{"domain":["WT","M11P","P14R","D30P","G43P"],"range":["#000000","#ffffff","#000000","#ffffff","#000000"]},"legend":null},"stroke":{"field":"s","type":"nominal","scale":{"domain":["WT","M11P","P14R","D30P","G43P"],"range":["#000000","#333333","#000000","#333333","#000000"]},"legend":null}}}
]},
{"width":231,"height":204,"data":{"name":"p24"},
"encoding":{"x":{"field":"x","type":"quantitative","scale":{"type":"log","domain":[7320,21940000],"nice":false},"axis":{"values":[8000,9000,10000,20000,30000,40000,50000,60000,70000,80000,90000,100000,200000,300000,400000,500000,600000,700000,800000,900000,1000000,2000000,3000000,4000000,5000000,6000000,7000000,8000000,9000000,10000000,20000000],"labels":false,"title":null}},
"y":{"field":"y","type":"quantitative","scale":{"domain":[-0.114,2.205],"nice":false,"zero":false},"axis":{"orient":"right","values":[0,1,2],"labelPadding":8,"title":"Viral Entry","titleAngle":-90,"titleX":50,"titleY":112,"titleAlign":"center","titleBaseline":"middle","titleFontSize":28,"titleFontWeight":"bold"}}},
"layer":[
{"transform":[{"filter":"datum.e > 0"}],"mark":{"type":"errorbar","ticks":{"size":6},"color":"#909090","thickness":1},"encoding":{"yError":{"field":"e"}}},
{"mark":{"type":"line","strokeWidth":1.1},"encoding":{"color":{"field":"s","type":"nominal","scale":{"domain":["WT","M11P","P14R","D30P","G43P"],"range":["#000000","#777777","#000000","#777777","#000000"]},"legend":null}}},
{"mark":{"type":"point","size":95,"opacity":1,"strokeWidth":1},"encoding":{"shape":{"field":"s","type":"nominal","scale":{"domain":["WT","M11P","P14R","D30P","G43P"],"range":["circle","circle","triangle-down","triangle-down","square"]},"legend":null},"fill":{"field":"s","type":"nominal","scale":{"domain":["WT","M11P","P14R","D30P","G43P"],"range":["#000000","#ffffff","#000000","#ffffff","#000000"]},"legend":null},"stroke":{"field":"s","type":"nominal","scale":{"domain":["WT","M11P","P14R","D30P","G43P"],"range":["#000000","#333333","#000000","#333333","#000000"]},"legend":null}}},
{"transform":[{"filter":"false"}],"mark":{"type":"point","size":900,"opacity":1,"strokeWidth":1},"encoding":{
"shape":{"field":"s","type":"nominal","scale":{"domain":["WT","M11P","P14R","D30P","G43P"],"range":["M-1.367,0H-0.353M0.353,0H1.367M-0.353,0A0.353,0.353,0,1,0,0.353,0A0.353,0.353,0,1,0,-0.353,0Z","M-1.367,0H-0.353M0.353,0H1.367M-0.353,0A0.353,0.353,0,1,0,0.353,0A0.353,0.353,0,1,0,-0.353,0Z","M-1.367,0H-0.224M0.224,0H1.367M-0.373,-0.267L0.373,-0.267L0,0.4Z","M-1.367,0H-0.224M0.224,0H1.367M-0.373,-0.267L0.373,-0.267L0,0.4Z","M-1.367,0H-0.3M0.3,0H1.367M-0.3,-0.3H0.3V0.3H-0.3Z"]},"legend":{"title":null,"orient":"none","legendX":24,"legendY":20,"symbolSize":900,"symbolStrokeWidth":1,"symbolOpacity":1,"labelFontSize":18,"labelColor":"#222","labelOffset":16,"rowPadding":0,"padding":0,"labelLimit":200}},
"fill":{"field":"s","type":"nominal","scale":{"domain":["WT","M11P","P14R","D30P","G43P"],"range":["#000000","#ffffff","#000000","#ffffff","#000000"]},"legend":{"title":null,"orient":"none","legendX":24,"legendY":20,"symbolSize":900,"symbolStrokeWidth":1,"symbolOpacity":1,"labelFontSize":18,"labelColor":"#222","labelOffset":16,"rowPadding":0,"padding":0,"labelLimit":200}},
"stroke":{"field":"s","type":"nominal","scale":{"domain":["WT","M11P","P14R","D30P","G43P"],"range":["#000000","#777777","#000000","#777777","#000000"]},"legend":{"title":null,"orient":"none","legendX":24,"legendY":20,"symbolSize":900,"symbolStrokeWidth":1,"symbolOpacity":1,"labelFontSize":18,"labelColor":"#222","labelOffset":16,"rowPadding":0,"padding":0,"labelLimit":200}}}}
],
"resolve":{"scale":{"shape":"independent","fill":"independent","stroke":"independent"}}},

{"width":231,"height":204,"data":{"name":"p31"},
"encoding":{"x":{"field":"x","type":"quantitative","scale":{"type":"log","domain":[7320,21940000],"nice":false},"axis":{"values":[8000,9000,10000,20000,30000,40000,50000,60000,70000,80000,90000,100000,200000,300000,400000,500000,600000,700000,800000,900000,1000000,2000000,3000000,4000000,5000000,6000000,7000000,8000000,9000000,10000000,20000000],"labelExpr":"datum.value == 10000 ? '10⁴' : datum.value == 100000 ? '10⁵' : datum.value == 1000000 ? '10⁶' : datum.value == 10000000 ? '10⁷' : ''","labelOverlap":false,"labelFlush":false,"labelPadding":6,"labelDx":3,"title":null}},
"y":{"field":"y","type":"quantitative","scale":{"domain":[-0.183,3.217],"nice":false,"zero":false},"axis":{"values":[0,1,2,3],"labelPadding":10,"title":"III","titleAngle":0,"titleX":-68,"titleY":30,"titleAlign":"left","titleBaseline":"alphabetic","titleFontSize":25,"titleFontWeight":"bold"}}},
"layer":[
{"transform":[{"filter":"datum.e > 0"}],"mark":{"type":"errorbar","ticks":{"size":6},"color":"#909090","thickness":1},"encoding":{"yError":{"field":"e"}}},
{"mark":{"type":"line","strokeWidth":1.1},"encoding":{"color":{"field":"s","type":"nominal","scale":{"domain":["WT","Q27P","Q27A","D26R/Δ28/T29P"],"range":["#000000","#777777","#000000","#777777"]},"legend":null}}},
{"mark":{"type":"point","size":95,"opacity":1,"strokeWidth":1},"encoding":{"shape":{"field":"s","type":"nominal","scale":{"domain":["WT","Q27P","Q27A","D26R/Δ28/T29P"],"range":["circle","circle","triangle-down","triangle-down"]},"legend":null},"fill":{"field":"s","type":"nominal","scale":{"domain":["WT","Q27P","Q27A","D26R/Δ28/T29P"],"range":["#000000","#ffffff","#000000","#ffffff"]},"legend":null},"stroke":{"field":"s","type":"nominal","scale":{"domain":["WT","Q27P","Q27A","D26R/Δ28/T29P"],"range":["#000000","#444444","#000000","#444444"]},"legend":null}}}
]},
{"width":231,"height":204,"data":{"name":"p32"},
"encoding":{"x":{"field":"x","type":"quantitative","scale":{"type":"log","domain":[7320,21940000],"nice":false},"axis":{"values":[8000,9000,10000,20000,30000,40000,50000,60000,70000,80000,90000,100000,200000,300000,400000,500000,600000,700000,800000,900000,1000000,2000000,3000000,4000000,5000000,6000000,7000000,8000000,9000000,10000000,20000000],"labelExpr":"datum.value == 10000 ? '10⁴' : datum.value == 100000 ? '10⁵' : datum.value == 1000000 ? '10⁶' : datum.value == 10000000 ? '10⁷' : ''","labelOverlap":false,"labelFlush":false,"labelPadding":6,"labelDx":3,"title":"PFU/well","titleX":273,"titleY":52,"titleAlign":"center","titleBaseline":"alphabetic","titleFontSize":25,"titleFontWeight":"bold"}},
"y":{"field":"y","type":"quantitative","scale":{"domain":[-0.183,3.217],"nice":false,"zero":false},"axis":null}},
"layer":[
{"transform":[{"filter":"datum.e > 0"}],"mark":{"type":"errorbar","ticks":{"size":6},"color":"#909090","thickness":1},"encoding":{"yError":{"field":"e"}}},
{"mark":{"type":"line","strokeWidth":1.1},"encoding":{"color":{"field":"s","type":"nominal","scale":{"domain":["WT","Q27P","Q27A","D26R/Δ28/T29P"],"range":["#000000","#777777","#000000","#777777"]},"legend":null}}},
{"mark":{"type":"point","size":95,"opacity":1,"strokeWidth":1},"encoding":{"shape":{"field":"s","type":"nominal","scale":{"domain":["WT","Q27P","Q27A","D26R/Δ28/T29P"],"range":["circle","circle","triangle-down","triangle-down"]},"legend":null},"fill":{"field":"s","type":"nominal","scale":{"domain":["WT","Q27P","Q27A","D26R/Δ28/T29P"],"range":["#000000","#ffffff","#000000","#ffffff"]},"legend":null},"stroke":{"field":"s","type":"nominal","scale":{"domain":["WT","Q27P","Q27A","D26R/Δ28/T29P"],"range":["#000000","#444444","#000000","#444444"]},"legend":null}}}
]},
{"width":26,"height":204,"data":{"values":[]},"mark":{"type":"point"},"view":{"stroke":null}},
{"width":231,"height":204,"data":{"name":"p33"},
"encoding":{"x":{"field":"x","type":"quantitative","scale":{"type":"log","domain":[7320,21940000],"nice":false},"axis":{"values":[8000,9000,10000,20000,30000,40000,50000,60000,70000,80000,90000,100000,200000,300000,400000,500000,600000,700000,800000,900000,1000000,2000000,3000000,4000000,5000000,6000000,7000000,8000000,9000000,10000000,20000000],"labelExpr":"datum.value == 10000 ? '10⁴' : datum.value == 100000 ? '10⁵' : datum.value == 1000000 ? '10⁶' : datum.value == 10000000 ? '10⁷' : ''","labelOverlap":false,"labelFlush":false,"labelPadding":6,"labelDx":3,"title":null}},
"y":{"field":"y","type":"quantitative","scale":{"domain":[-0.114,2.205],"nice":false,"zero":false},"axis":null}},
"layer":[
{"transform":[{"filter":"datum.e > 0"}],"mark":{"type":"errorbar","ticks":{"size":6},"color":"#909090","thickness":1},"encoding":{"yError":{"field":"e"}}},
{"mark":{"type":"line","strokeWidth":1.1},"encoding":{"color":{"field":"s","type":"nominal","scale":{"domain":["WT","Q27P","Q27A","D26R/Δ28/T29P"],"range":["#000000","#777777","#000000","#777777"]},"legend":null}}},
{"mark":{"type":"point","size":95,"opacity":1,"strokeWidth":1},"encoding":{"shape":{"field":"s","type":"nominal","scale":{"domain":["WT","Q27P","Q27A","D26R/Δ28/T29P"],"range":["circle","circle","triangle-down","triangle-down"]},"legend":null},"fill":{"field":"s","type":"nominal","scale":{"domain":["WT","Q27P","Q27A","D26R/Δ28/T29P"],"range":["#000000","#ffffff","#000000","#ffffff"]},"legend":null},"stroke":{"field":"s","type":"nominal","scale":{"domain":["WT","Q27P","Q27A","D26R/Δ28/T29P"],"range":["#000000","#444444","#000000","#444444"]},"legend":null}}}
]},
{"width":231,"height":204,"data":{"name":"p34"},
"encoding":{"x":{"field":"x","type":"quantitative","scale":{"type":"log","domain":[7320,21940000],"nice":false},"axis":{"values":[8000,9000,10000,20000,30000,40000,50000,60000,70000,80000,90000,100000,200000,300000,400000,500000,600000,700000,800000,900000,1000000,2000000,3000000,4000000,5000000,6000000,7000000,8000000,9000000,10000000,20000000],"labelExpr":"datum.value == 10000 ? '10⁴' : datum.value == 100000 ? '10⁵' : datum.value == 1000000 ? '10⁶' : datum.value == 10000000 ? '10⁷' : ''","labelOverlap":false,"labelFlush":false,"labelPadding":6,"labelDx":3,"title":null}},
"y":{"field":"y","type":"quantitative","scale":{"domain":[-0.114,2.205],"nice":false,"zero":false},"axis":{"orient":"right","values":[0,1,2],"labelPadding":8,"title":null}}},
"layer":[
{"transform":[{"filter":"datum.e > 0"}],"mark":{"type":"errorbar","ticks":{"size":6},"color":"#909090","thickness":1},"encoding":{"yError":{"field":"e"}}},
{"mark":{"type":"line","strokeWidth":1.1},"encoding":{"color":{"field":"s","type":"nominal","scale":{"domain":["WT","Q27P","Q27A","D26R/Δ28/T29P"],"range":["#000000","#777777","#000000","#777777"]},"legend":null}}},
{"mark":{"type":"point","size":95,"opacity":1,"strokeWidth":1},"encoding":{"shape":{"field":"s","type":"nominal","scale":{"domain":["WT","Q27P","Q27A","D26R/Δ28/T29P"],"range":["circle","circle","triangle-down","triangle-down"]},"legend":null},"fill":{"field":"s","type":"nominal","scale":{"domain":["WT","Q27P","Q27A","D26R/Δ28/T29P"],"range":["#000000","#ffffff","#000000","#ffffff"]},"legend":null},"stroke":{"field":"s","type":"nominal","scale":{"domain":["WT","Q27P","Q27A","D26R/Δ28/T29P"],"range":["#000000","#444444","#000000","#444444"]},"legend":null}}},
{"transform":[{"filter":"false"}],"mark":{"type":"point","size":900,"opacity":1,"strokeWidth":1},"encoding":{
"shape":{"field":"s","type":"nominal","scale":{"domain":["WT","Q27P","Q27A","D26R/Δ28/T29P"],"range":["M-1.367,0H-0.353M0.353,0H1.367M-0.353,0A0.353,0.353,0,1,0,0.353,0A0.353,0.353,0,1,0,-0.353,0Z","M-1.367,0H-0.353M0.353,0H1.367M-0.353,0A0.353,0.353,0,1,0,0.353,0A0.353,0.353,0,1,0,-0.353,0Z","M-1.367,0H-0.224M0.224,0H1.367M-0.373,-0.267L0.373,-0.267L0,0.4Z","M-1.367,0H-0.224M0.224,0H1.367M-0.373,-0.267L0.373,-0.267L0,0.4Z"]},"legend":{"title":null,"orient":"none","legendX":24,"legendY":25,"symbolSize":900,"symbolStrokeWidth":1,"symbolOpacity":1,"labelFontSize":18,"labelColor":"#222","labelOffset":16,"rowPadding":0,"padding":0,"labelLimit":200,"labelExpr":"datum.label == 'D26R/Δ28/T29P' ? ['D26R/Δ28', '/T29P'] : datum.label"}},
"fill":{"field":"s","type":"nominal","scale":{"domain":["WT","Q27P","Q27A","D26R/Δ28/T29P"],"range":["#000000","#ffffff","#000000","#ffffff"]},"legend":{"title":null,"orient":"none","legendX":24,"legendY":25,"symbolSize":900,"symbolStrokeWidth":1,"symbolOpacity":1,"labelFontSize":18,"labelColor":"#222","labelOffset":16,"rowPadding":0,"padding":0,"labelLimit":200,"labelExpr":"datum.label == 'D26R/Δ28/T29P' ? ['D26R/Δ28', '/T29P'] : datum.label"}},
"stroke":{"field":"s","type":"nominal","scale":{"domain":["WT","Q27P","Q27A","D26R/Δ28/T29P"],"range":["#000000","#777777","#000000","#777777"]},"legend":{"title":null,"orient":"none","legendX":24,"legendY":25,"symbolSize":900,"symbolStrokeWidth":1,"symbolOpacity":1,"labelFontSize":18,"labelColor":"#222","labelOffset":16,"rowPadding":0,"padding":0,"labelLimit":200,"labelExpr":"datum.label == 'D26R/Δ28/T29P' ? ['D26R/Δ28', '/T29P'] : datum.label"}}}}
],
"resolve":{"scale":{"shape":"independent","fill":"independent","stroke":"independent"}}}
]
}
